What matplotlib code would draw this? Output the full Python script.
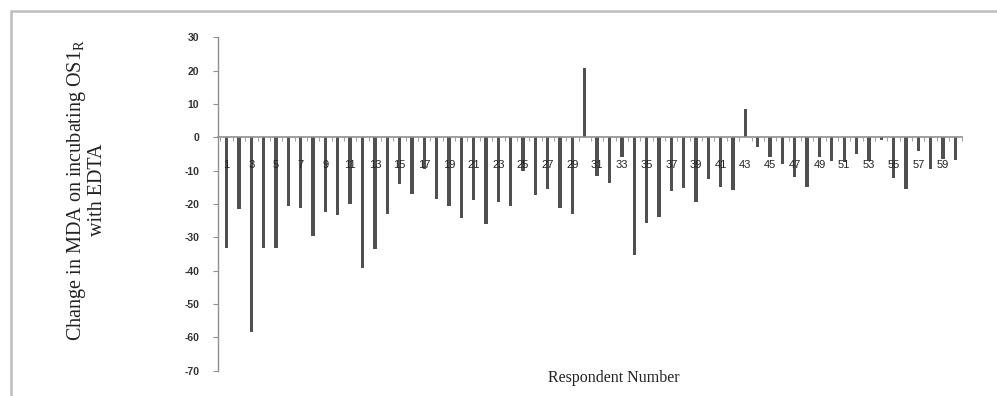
import matplotlib
matplotlib.use("Agg")
import matplotlib.pyplot as plt
from matplotlib.patches import Rectangle
from matplotlib.ticker import FixedLocator

respondents = list(range(1, 61))
mda_change = [
    -33.1, -21.6, -58.5, -33.1, -33.1, -20.6, -21.1, -29.5, -22.5, -23.4,
    -20.1, -39.3, -33.4, -23.0, -14.1, -17.0, -9.5, -18.5, -20.5, -24.2,
    -18.8, -26.0, -19.3, -20.6, -10.0, -17.3, -15.6, -21.3, -23.0, 20.9,
    -11.6, -13.8, -6.0, -35.3, -25.6, -23.8, -16.0, -15.3, -19.3, -12.4,
    -14.8, -15.8, 8.4, -2.8, -6.0, -8.0, -11.8, -14.8, -6.0, -7.0,
    -7.5, -5.0, -7.0, -0.8, -12.3, -15.6, -4.0, -9.5, -6.5, -6.8,
]
x_tick_labels = [str(n) for n in range(1, 61, 2)]
y_ticks = [30, 20, 10, 0, -10, -20, -30, -40, -50, -60, -70]

W, H = 997, 396
fig = plt.figure(figsize=(W / 100, H / 100), dpi=100)
fig.patch.set_facecolor("white")

# outer frame (only top and left edges visible in reference)
fig.patches.append(Rectangle((11 / W, -0.2), 1.2, 1 + 0.2 - 11 / H,
                             transform=fig.transFigure, fill=False,
                             edgecolor="#bdbdbd", linewidth=1.8, zorder=0))

ax = fig.add_axes([218 / W, (H - 370.7) / H, (961.5 - 218) / W, (370.7 - 37.3) / H])
ax.bar(respondents, mda_change, width=0.27, color="#505050", zorder=2)
ax.set_axisbelow(False)

ax.set_ylim(-70, 30)
ax.set_xlim(0.3, 60.5)

for s in ["top", "right"]:
    ax.spines[s].set_visible(False)
ax.spines["left"].set_color("#8f8f8f")
ax.spines["left"].set_linewidth(1.0)
ax.spines["bottom"].set_position(("data", 0))
ax.spines["bottom"].set_color("#8f8f8f")
ax.spines["bottom"].set_linewidth(1.2)

ax.set_yticks(y_ticks)
ax.set_yticklabels([str(v) for v in y_ticks])
ax.tick_params(axis="y", direction="out", length=3.5, width=0.8, color="#8f8f8f",
               pad=10, labelsize=7.5, labelcolor="#333333")
for lbl in ax.get_yticklabels():
    lbl.set_fontweight("bold")
    lbl.set_family("Liberation Sans")

ax.set_xticks(list(range(1, 61, 2)))
ax.set_xticklabels(x_tick_labels)
ax.xaxis.set_minor_locator(FixedLocator([k + 0.5 for k in range(0, 61)]))
ax.tick_params(axis="x", which="major", length=0, pad=16, labelsize=8,
               labelcolor="#222222")
ax.tick_params(axis="x", which="minor", direction="out", length=3, width=0.7,
               color="#9a9a9a")
for lbl in ax.get_xticklabels():
    lbl.set_family("Liberation Sans")

fig.text(86 / W, (H - 190) / H,
         "Change in MDA on incubating OS1$_{\\mathregular{R}}$\nwith EDTA",
         rotation=90, ha="center", va="center", multialignment="center",
         family="Liberation Serif", fontsize=14.5, color="#222222",
         linespacing=1.0)
fig.text(614 / W, (H - 378) / H, "Respondent Number", ha="center", va="center",
         family="Liberation Serif", fontsize=11.5, color="#222222")

fig.savefig("out.png", dpi=100)
